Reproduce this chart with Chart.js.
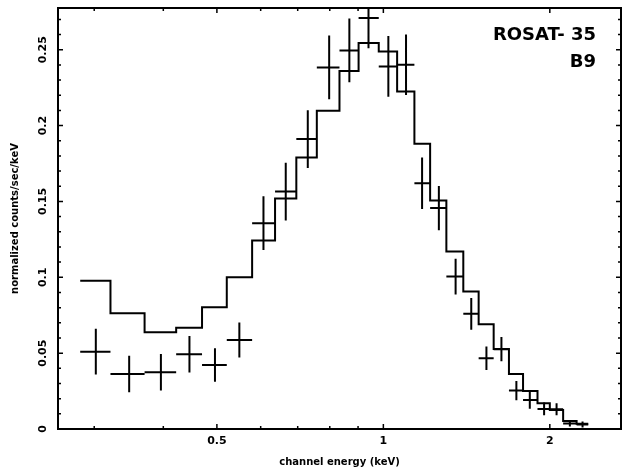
<!DOCTYPE html>
<html>
<head>
<meta charset="utf-8">
<script src="https://cdn.jsdelivr.net/npm/chart.js@4.4.1/dist/chart.umd.min.js"></script>
<style>
  html, body { margin: 0; padding: 0; background: #fff; }
  canvas { display: block; }
</style>
</head>
<body>
<canvas id="spectrum" width="632" height="472"></canvas>
<script>
// Channel boundaries in keV (one more than the number of channels)
const binEdges = [0.283, 0.321, 0.370, 0.422, 0.470, 0.521, 0.579, 0.637, 0.696, 0.758,
                  0.833, 0.902, 0.981, 1.059, 1.138, 1.215, 1.300, 1.395, 1.487, 1.583,
                  1.687, 1.789, 1.900, 2.000, 2.114, 2.236, 2.347];
// Channel centres (keV)
const energy = [0.302, 0.347, 0.396, 0.446, 0.496, 0.549, 0.607, 0.666, 0.730, 0.798,
                0.868, 0.940, 1.021, 1.099, 1.175, 1.260, 1.351, 1.442, 1.536, 1.635,
                1.740, 1.840, 1.953, 2.057, 2.174, 2.292];
// Observed rate and 1-sigma error (counts/sec/keV)
const rate = [0.0510, 0.0363, 0.0374, 0.0493, 0.0422, 0.0587, 0.1357, 0.1565, 0.1911, 0.2383,
              0.2495, 0.2709, 0.2390, 0.2401, 0.1620, 0.1456, 0.1005, 0.0759, 0.0466, 0.0526,
              0.0253, 0.0191, 0.0132, 0.0130, 0.0037, 0.0030];
const rateErr = [0.0150, 0.0120, 0.0120, 0.0120, 0.0110, 0.0115, 0.0177, 0.0190, 0.0190, 0.0210,
                 0.0210, 0.0200, 0.0200, 0.0200, 0.0170, 0.0146, 0.0118, 0.0104, 0.0077, 0.0080,
                 0.0063, 0.0058, 0.0042, 0.0040, 0.0020, 0.0020];
// Folded model, one value per channel
const model = [0.0978, 0.0763, 0.0638, 0.0668, 0.0803, 0.1000, 0.1242, 0.1520, 0.1790, 0.2098,
               0.2360, 0.2544, 0.2489, 0.2225, 0.1880, 0.1506, 0.1170, 0.0906, 0.0690, 0.0528,
               0.0363, 0.0251, 0.0169, 0.0125, 0.0053, 0.0035];

const xLabelTicks = [0.5, 1, 2];
const xMinorTicks = [0.3, 0.4, 0.6, 0.7, 0.8, 0.9];
const yLabelTicks = [0, 0.05, 0.1, 0.15, 0.2, 0.25];
const sourceName = ['ROSAT- 35', 'B9'];

const FONT = 'DejaVu Sans';

// model histogram: one point per left edge, plus the last right edge
const modelSteps = model.map((m, i) => ({x: binEdges[i], y: m}));
modelSteps.push({x: binEdges[binEdges.length - 1], y: model[model.length - 1]});

// data crosses as broken line segments (null y breaks the line)
const crosses = [];
energy.forEach((e, i) => {
    crosses.push({x: binEdges[i], y: rate[i]}, {x: binEdges[i + 1], y: rate[i]}, {x: e, y: null});
    crosses.push({x: e, y: rate[i] - rateErr[i]}, {x: e, y: rate[i] + rateErr[i]}, {x: e, y: null});
});

// box round the plot with inward ticks on all four sides
const frame = {
    id: 'frame',
    afterDatasetsDraw(chart) {
        const {ctx, chartArea: a, scales: {x, y}} = chart;
        ctx.save();
        ctx.strokeStyle = '#000';
        ctx.lineWidth = 2;
        ctx.strokeRect(a.left, a.top, a.right - a.left, a.bottom - a.top);
        ctx.lineWidth = 1.5;
        ctx.beginPath();
        const tickX = (v, len) => {
            const px = x.getPixelForValue(v);
            ctx.moveTo(px, a.bottom); ctx.lineTo(px, a.bottom - len);
            ctx.moveTo(px, a.top); ctx.lineTo(px, a.top + len);
        };
        const tickY = (v, len) => {
            const py = y.getPixelForValue(v);
            ctx.moveTo(a.left, py); ctx.lineTo(a.left + len, py);
            ctx.moveTo(a.right, py); ctx.lineTo(a.right - len, py);
        };
        xLabelTicks.forEach(v => tickX(v, 5));
        xMinorTicks.forEach(v => tickX(v, 3));
        yLabelTicks.forEach(v => tickY(v, 5));
        for (let k = 1; k < 28; k++) {
            if (k % 5) tickY(k / 100, 3);
        }
        ctx.stroke();
        ctx.restore();
    }
};

const sourceLabel = {
    id: 'sourceLabel',
    afterDraw(chart) {
        const {ctx, chartArea: a} = chart;
        ctx.save();
        ctx.font = `bold 18px "${FONT}"`;
        ctx.textAlign = 'right';
        ctx.fillStyle = '#000';
        ctx.fillText(sourceName[0], a.right - 25, a.top + 32);
        ctx.fillText(sourceName[1], a.right - 25, a.top + 59);
        ctx.restore();
    }
};

new Chart(document.getElementById('spectrum'), {
    type: 'scatter',
    data: {
        datasets: [{
            data: modelSteps,
            showLine: true,
            stepped: 'before',
            borderColor: '#000',
            borderWidth: 2,
            pointRadius: 0,
            pointHoverRadius: 0
        }, {
            data: crosses,
            showLine: true,
            spanGaps: false,
            borderColor: '#000',
            borderWidth: 2,
            borderCapStyle: 'butt',
            pointRadius: 0,
            pointHoverRadius: 0
        }]
    },
    options: {
        responsive: false,
        animation: false,
        layout: {padding: {top: 8, right: 11, left: 0, bottom: 0}},
        plugins: {legend: {display: false}, tooltip: {enabled: false}},
        scales: {
            x: {
                type: 'logarithmic',
                min: 0.258,
                max: 2.69,
                afterBuildTicks: (s) => { s.ticks = xLabelTicks.map(v => ({value: v})); },
                afterFit: (s) => { s.height = 43; },
                grid: {display: false, drawTicks: false},
                border: {display: false},
                ticks: {
                    color: '#000',
                    font: {family: FONT, size: 11, weight: 'bold'},
                    padding: 6,
                    autoSkip: false,
                    maxRotation: 0,
                    callback: (v) => String(v)
                },
                title: {
                    display: true,
                    text: 'channel energy (keV)',
                    color: '#000',
                    font: {family: FONT, size: 10, weight: 'bold'},
                    padding: {top: 0, bottom: 4}
                }
            },
            y: {
                min: 0,
                max: 0.2775,
                afterBuildTicks: (s) => { s.ticks = yLabelTicks.map(v => ({value: v})); },
                afterFit: (s) => { s.width = 58; },
                grid: {display: false, drawTicks: false},
                border: {display: false},
                ticks: {
                    color: '#000',
                    font: {family: FONT, size: 11, weight: 'bold'},
                    minRotation: 90,
                    maxRotation: 90,
                    crossAlign: 'center',
                    padding: 1,
                    callback: (v) => String(v)
                },
                title: {
                    display: true,
                    text: 'normalized counts/sec/keV',
                    color: '#000',
                    font: {family: FONT, size: 10, weight: 'bold'},
                    padding: {top: 9, bottom: 0}
                }
            }
        }
    },
    plugins: [frame, sourceLabel]
});
</script>
</body>
</html>
